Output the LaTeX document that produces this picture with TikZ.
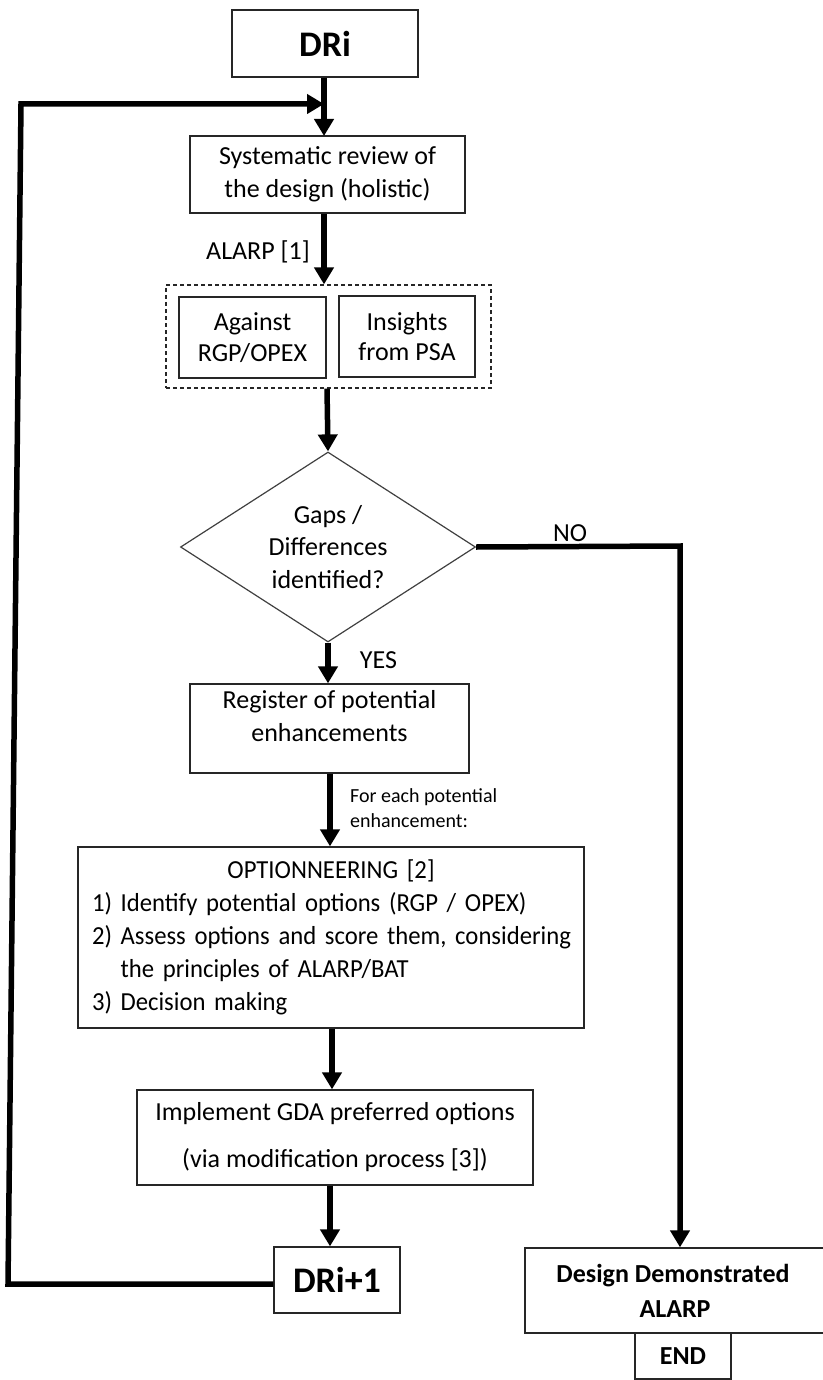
\documentclass[tikz,border=0pt]{standalone}
\usepackage{fontspec}
\setmainfont{Carlito}
\newfontfamily\condfont{Carlito}[FakeStretch=0.95, WordSpace=0.7]
\usetikzlibrary{shapes.geometric,arrows.meta}
\begin{document}
\begin{tikzpicture}[x=1pt,y=-1pt,
  box/.style={draw=black!85, line width=1.3pt, rectangle, inner sep=0pt, align=center,
    font=\fontsize{26}{33}\selectfont},
  boldbox/.style={box, font=\fontsize{26}{35}\selectfont\bfseries},
  bigbox/.style={box, font=\fontsize{36}{40}\selectfont\bfseries},
  dashbox/.style={draw=black!85, line width=1.2pt, dash pattern=on 4pt off 3pt, rectangle, inner sep=0pt},
  decision/.style={draw=black!75, line width=1.2pt, diamond, inner sep=0pt, align=center,
    font=\fontsize{26}{32.5}\selectfont},
  flow/.style={line width=5.5pt, -{Triangle[width=19pt,length=17pt]}},
  lbl/.style={inner sep=0pt, font=\fontsize{26}{31}\selectfont},
  smalllbl/.style={inner sep=0pt, align=left, font=\fontsize{20}{25}\selectfont},
]
\useasboundingbox (0,0) rectangle (822,1380);

% boxes
\node[bigbox, minimum width=186pt, minimum height=67pt] (dri) at (325,43.5) {DRi};
\node[box, minimum width=275pt, minimum height=77pt] (sys) at (327.5,174.5)
  {Systematic review of\\the design (holistic)};
\node[dashbox, minimum width=325pt, minimum height=103pt] (grp) at (328.5,336.5) {};
\node[box, minimum width=147pt, minimum height=81pt, font=\fontsize{26}{30.5}\selectfont] (against) at (252.5,337.5)
  {Against\\RGP/OPEX};
\node[box, minimum width=136pt, minimum height=81pt, font=\fontsize{26}{30.5}\selectfont] (insights) at (407,336.5)
  {Insights\\from PSA};
\node[decision, minimum width=295pt, minimum height=190pt, aspect=1.55] (gap) at (328,547)
  {Gaps /\\Differences\\identified?};
\node[box, minimum width=279pt, minimum height=89pt] (reg) at (329.5,728.5)
  {Register of potential\\enhancements\\[-8pt]\mbox{}};
\node[box, text width=478pt, inner xsep=14pt, minimum height=181pt, align=left,
      font=\fontsize{26}{33}\condfont] (opt) at (331,937.5)
  {\makebox[478pt][c]{OPTIONNEERING [2]}\\
   \mbox{1)~Identify potential options (RGP / OPEX)}\\
   \mbox{2)~Assess options and score them, considering}\\
   \mbox{\hphantom{2)~}the principles of ALARP/BAT}\\
   \mbox{3)~Decision making}};
\node[box, minimum width=396pt, minimum height=95pt, font=\fontsize{26}{47}\selectfont] (impl) at (335,1137.5)
  {Implement GDA preferred options\\(via modification process [3])};
\node[bigbox, minimum width=126pt, minimum height=66pt] (dri1) at (337,1280) {DRi+1};
\node[boldbox, minimum width=300pt, minimum height=85pt] (design) at (675,1290.5)
  {\hspace*{-4pt}Design Demonstrated\\ALARP};
\node[boldbox, minimum width=96pt, minimum height=46pt] (endbox) at (683,1356) {END};

% labels
\node[lbl] (alarp) at (258,252) {ALARP [1]};
\node[lbl] (nolbl) at (570,533) {NO};
\node[lbl] (yeslbl) at (378.5,660) {YES};
\node[smalllbl, anchor=west] (each) at (350,808.5) {For each potential\\enhancement:};

% loop coordinates
\coordinate (lb) at (8,1284);
\coordinate (lt) at (21,104);
\coordinate (noc) at (680,546);

% connectors
\draw[flow] (dri.south -| 324,0) -- (324,136);
\draw[flow] (dri1.west |- 0,1284) -- (lb) -- (lt) -- (324,104);
\draw[flow] (sys.south -| 324,0) -- (grp.north -| 324,0);
\draw[flow] (grp.south -| 327,0) -- (gap.north);
\draw[flow] (gap.east) -- (noc) -- (noc |- design.north);
\draw[flow] (gap.south) -- (reg.north -| gap.south);
\draw[flow] (reg.south -| 330,0) -- (opt.north -| 330,0);
\draw[flow] (opt.south -| 332,0) -- (impl.north -| 332,0);
\draw[flow] (impl.south -| 330,0) -- (dri1.north -| 330,0);
\end{tikzpicture}
\end{document}
